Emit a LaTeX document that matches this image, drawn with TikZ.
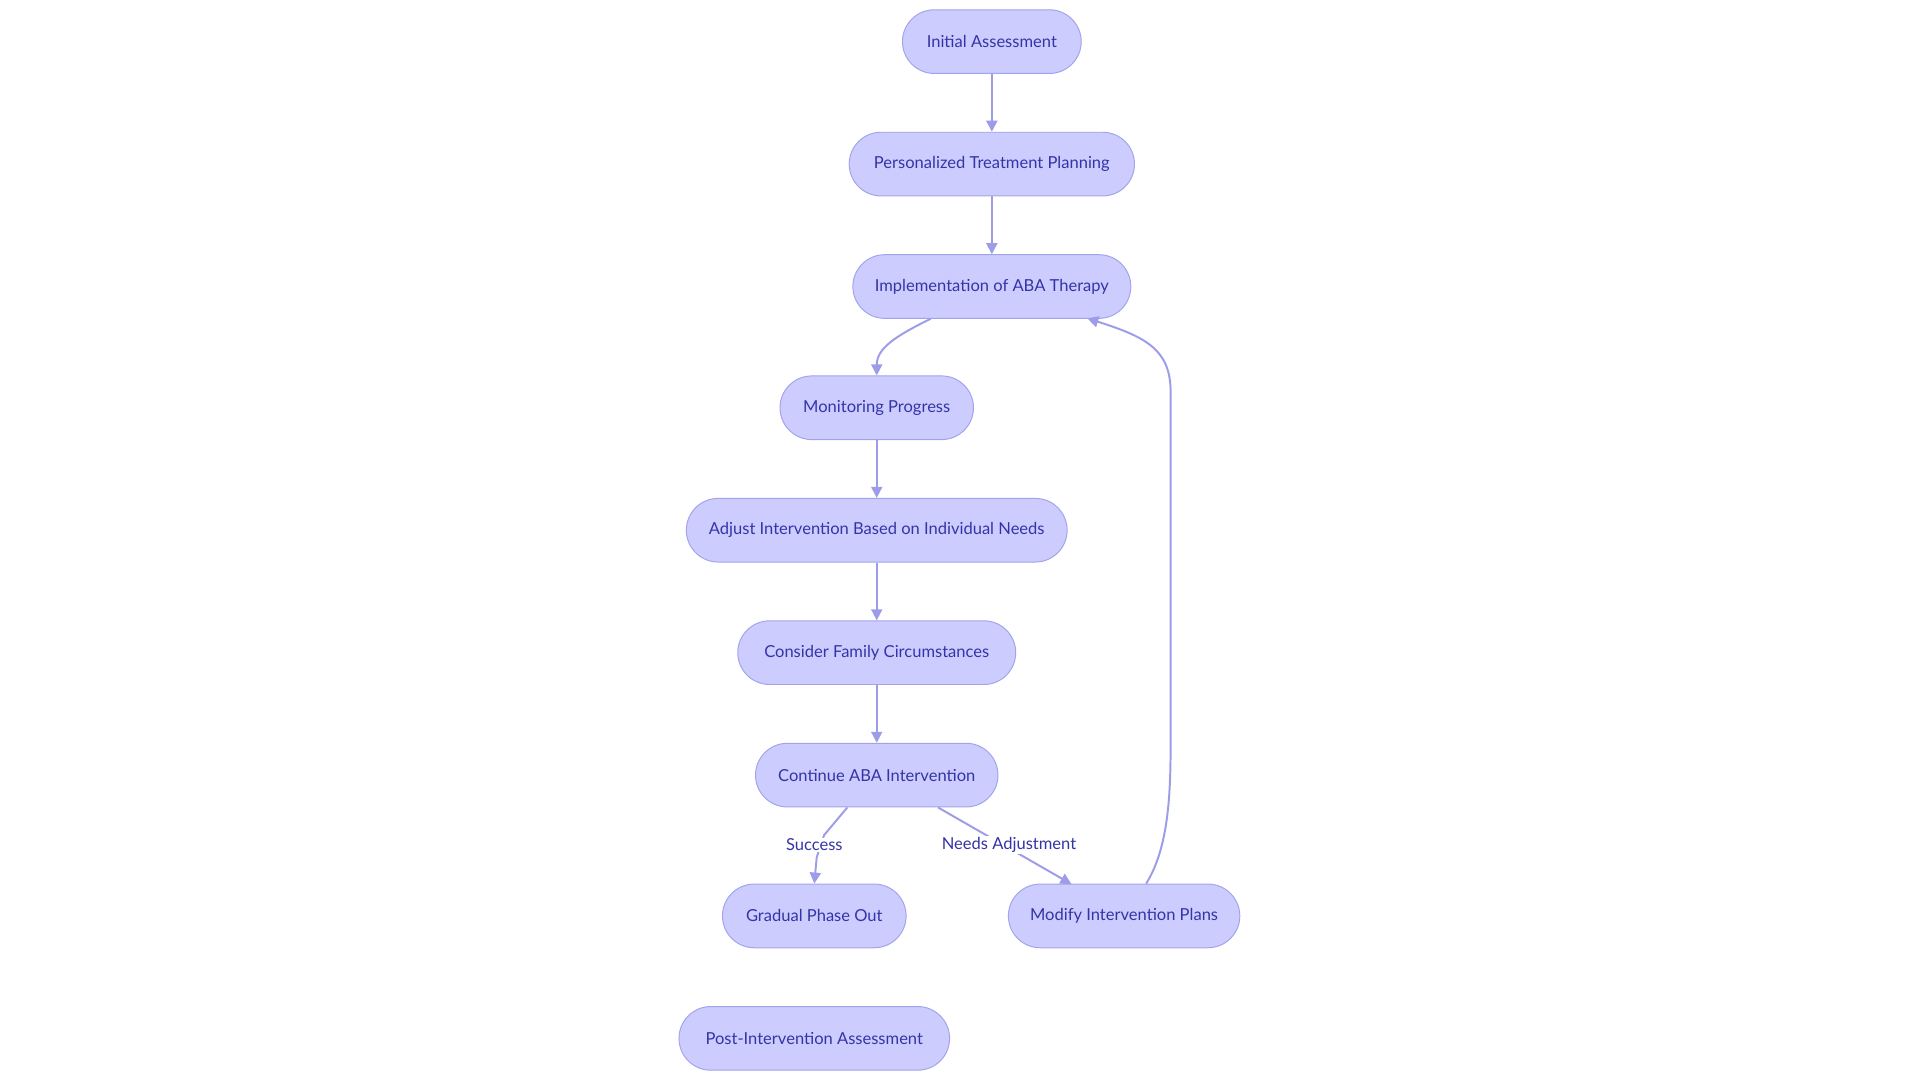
\documentclass[tikz,border=0pt]{standalone}
\usepackage{fontspec}
\setmainfont{Lato}
\usetikzlibrary{arrows.meta}
\definecolor{nfill}{HTML}{CCCCFF}
\definecolor{nstroke}{HTML}{A3A3EA}
\definecolor{ntext}{HTML}{3434A8}
\definecolor{edge}{HTML}{9C9CE8}
\begin{document}
\begin{tikzpicture}[x=1pt,y=-1pt,
  box/.style={draw=nstroke,fill=nfill,rounded corners=26pt,minimum height=52pt,text=ntext,font=\fontsize{13.5}{16}\selectfont,inner xsep=0pt,line width=0.8pt},
  conn/.style={draw=edge,line width=1.6pt,-{Triangle[length=9pt,width=9pt]}},
  lbl/.style={fill=white,text=ntext,font=\fontsize{13.5}{16}\selectfont,inner sep=1pt}]
\path[use as bounding box] (0,0) rectangle (1568,882);
\node[box,minimum width=146pt] (a) at (810,34) {Initial Assessment};
\node[box,minimum width=233pt] (b) at (810,134) {Personalized Treatment Planning};
\node[box,minimum width=227pt] (c) at (810,234) {Implementation of ABA Therapy};
\node[box,minimum width=158pt] (d) at (716,333) {Monitoring Progress};
\node[box,minimum width=311pt] (e) at (716,433) {Adjust Intervention Based on Individual Needs};
\node[box,minimum width=227pt] (f) at (716,533) {Consider Family Circumstances};
\node[box,minimum width=198pt] (g) at (716,633) {Continue ABA Intervention};
\node[box,minimum width=150pt] (h) at (665,748) {Gradual Phase Out};
\node[box,minimum width=189pt] (i) at (918,748) {Modify Intervention Plans};
\node[box,minimum width=221pt] (j) at (665,848) {Post-Intervention Assessment};
\draw[conn] (a) -- (b);
\draw[conn] (b) -- (c);
\draw[conn] (c.south) ++(-50,0) coordinate (c1) (c1) .. controls (730,275) and (716,285) .. (d.north);
\draw[conn] (d) -- (e);
\draw[conn] (e) -- (f);
\draw[conn] (f) -- (g);
\draw[conn] (g.south) ++(-24,0) coordinate (g1) (g1) -- (673,682) -- (667,700) -- (h.north);
\node[lbl] (ls) at (665,690) {Success};
\draw[conn] (g.south) ++(50,0) coordinate (g2) (g2) -- (875,722);
\node[lbl] (ln) at (824,690) {Needs Adjustment};
\draw[conn] (i.north) ++(18,0) coordinate (i1) (i1) .. controls (956,690) and (956,640) .. (956,600) -- (956,320) .. controls (956,285) and (935,275) .. (888,260);
\end{tikzpicture}
\end{document}
